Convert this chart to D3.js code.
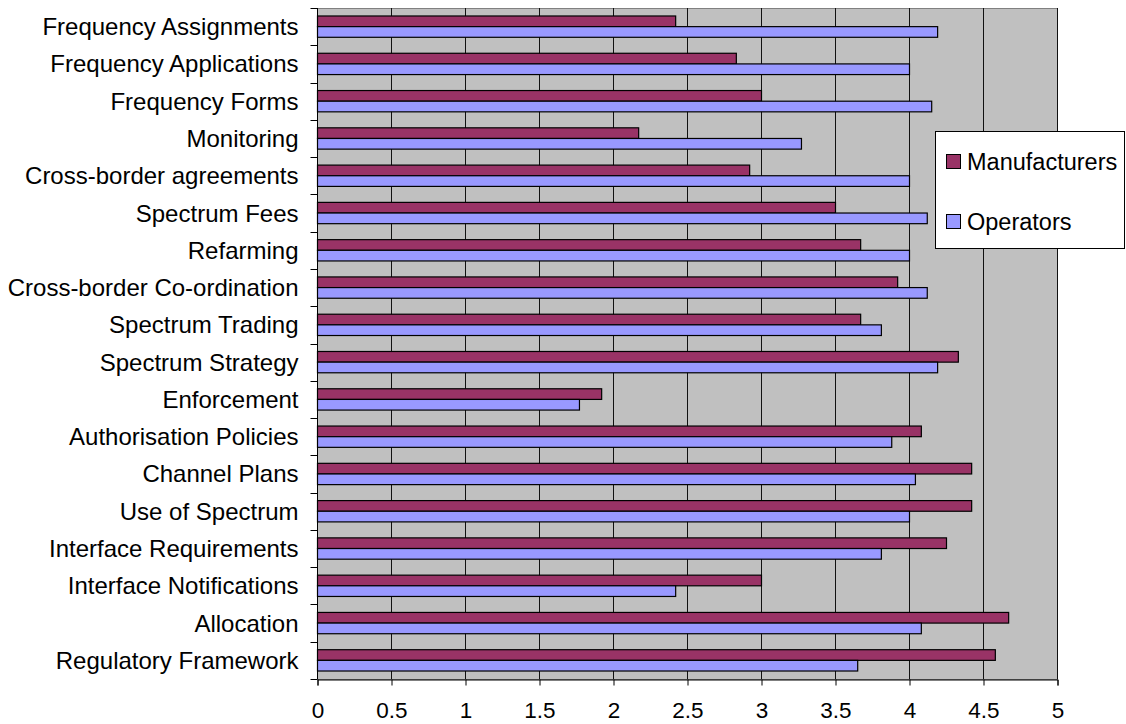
<!DOCTYPE html>
<html>
<head>
<meta charset="utf-8">
<script src="https://cdn.jsdelivr.net/npm/d3@7"></script>
<style>
  html, body { margin: 0; padding: 0; background: #fff; }
  svg { display: block; }
  text { font-family: "Liberation Sans", Arial, sans-serif; fill: #000; }
</style>
</head>
<body>
<svg id="chart" width="1126" height="724"></svg>
<script>
// Survey topics, listed top to bottom
const categories = [
  "Frequency Assignments",
  "Frequency Applications",
  "Frequency Forms",
  "Monitoring",
  "Cross-border agreements",
  "Spectrum Fees",
  "Refarming",
  "Cross-border Co-ordination",
  "Spectrum Trading",
  "Spectrum Strategy",
  "Enforcement",
  "Authorisation Policies",
  "Channel Plans",
  "Use of Spectrum",
  "Interface Requirements",
  "Interface Notifications",
  "Allocation",
  "Regulatory Framework"
];

const seriesNames = ["Manufacturers", "Operators"];

const manufacturers = [2.42, 2.83, 3.0, 2.17, 2.92, 3.5, 3.67, 3.92, 3.67, 4.33,
                       1.92, 4.08, 4.42, 4.42, 4.25, 3.0, 4.67, 4.58];
const operators     = [4.19, 4.0, 4.15, 3.27, 4.0, 4.12, 4.0, 4.12, 3.81, 4.19,
                       1.77, 3.88, 4.04, 4.0, 3.81, 2.42, 4.08, 3.65];

const xTicks = [0, 0.5, 1, 1.5, 2, 2.5, 3, 3.5, 4, 4.5, 5];

const colors = ["#993366", "#9999FF"];

const svg = d3.select("#chart");
const plotLeft = 317.5, plotRight = 1057.5, plotTop = 8, plotBottom = 679;
const labelSize = 24, legendSize = 23.5, tickSize = 22.5;

const x = d3.scaleLinear().domain([0, 5]).range([plotLeft, plotRight]);
const y = d3.scaleBand().domain(categories).range([plotTop, plotBottom]).padding(0);
const ySub = d3.scaleBand().domain(seriesNames).range([0, y.bandwidth()])
  .paddingInner(0).paddingOuter(0.75);

// plot area
svg.append("rect")
  .attr("x", plotLeft).attr("y", plotTop + 0.5)
  .attr("width", plotRight - plotLeft).attr("height", plotBottom - plotTop)
  .attr("fill", "#C0C0C0").attr("stroke", "#808080").attr("stroke-width", 1);

// vertical gridlines
svg.append("g").selectAll("line")
  .data(xTicks.filter(d => d > 0))
  .join("line")
  .attr("x1", d => x(d)).attr("x2", d => x(d))
  .attr("y1", plotTop).attr("y2", plotBottom)
  .attr("stroke", "#111").attr("stroke-width", 1);

// bars
const rows = categories.map((c, i) => ({ cat: c, values: [manufacturers[i], operators[i]] }));
const groups = svg.append("g").selectAll("g")
  .data(rows)
  .join("g")
  .attr("transform", d => `translate(0,${y(d.cat)})`);

groups.selectAll("rect")
  .data(d => d.values.map((v, k) => ({ name: seriesNames[k], v, k })))
  .join("rect")
  .attr("x", x(0))
  .attr("y", d => ySub(d.name))
  .attr("width", d => x(d.v) - x(0))
  .attr("height", ySub.bandwidth())
  .attr("fill", d => colors[d.k])
  .attr("stroke", "#000")
  .attr("stroke-width", 1.2);

// category axis: line, ticks at band boundaries, labels at band centres
const yAxis = svg.append("g");
yAxis.append("line")
  .attr("x1", plotLeft).attr("x2", plotLeft)
  .attr("y1", plotTop).attr("y2", plotBottom)
  .attr("stroke", "#000");
const boundaries = categories.map(c => y(c)).concat([plotBottom]);
yAxis.selectAll("line.tick")
  .data(boundaries)
  .join("line")
  .attr("class", "tick")
  .attr("x1", plotLeft - 7).attr("x2", plotLeft)
  .attr("y1", d => Math.round(d) + 0.5).attr("y2", d => Math.round(d) + 0.5)
  .attr("stroke", "#000");
yAxis.selectAll("text")
  .data(categories)
  .join("text")
  .attr("x", plotLeft - 19)
  .attr("y", d => y(d) + y.bandwidth() / 2 + labelSize * 0.355)
  .attr("text-anchor", "end")
  .attr("font-size", labelSize)
  .text(d => d);

// value axis
const xAxis = svg.append("g")
  .attr("transform", `translate(0,${plotBottom + 0.5})`)
  .call(d3.axisBottom(x).tickValues(xTicks).tickFormat(d => String(d))
    .tickSize(6).tickPadding(32.5));
xAxis.select(".domain").attr("stroke", "#000");
xAxis.selectAll(".tick line").attr("stroke", "#000");
xAxis.selectAll(".tick text")
  .attr("dy", null)
  .attr("font-size", tickSize)
  .attr("font-family", "'Liberation Sans', Arial, sans-serif")
  .attr("fill", "#000");

// legend
const legend = svg.append("g");
legend.append("rect")
  .attr("x", 935.5).attr("y", 131.5)
  .attr("width", 189).attr("height", 117)
  .attr("fill", "#fff").attr("stroke", "#000").attr("stroke-width", 1);
const items = legend.selectAll("g")
  .data(seriesNames)
  .join("g")
  .attr("transform", (d, i) => `translate(946,${154 + i * 60})`);
items.append("rect")
  .attr("x", 0.5).attr("y", 0.5)
  .attr("width", 14).attr("height", 14)
  .attr("fill", (d, i) => colors[i])
  .attr("stroke", "#000").attr("stroke-width", 1);
items.append("text")
  .attr("x", 21).attr("y", 15.5)
  .attr("font-size", legendSize)
  .text(d => d);
</script>
</body>
</html>
